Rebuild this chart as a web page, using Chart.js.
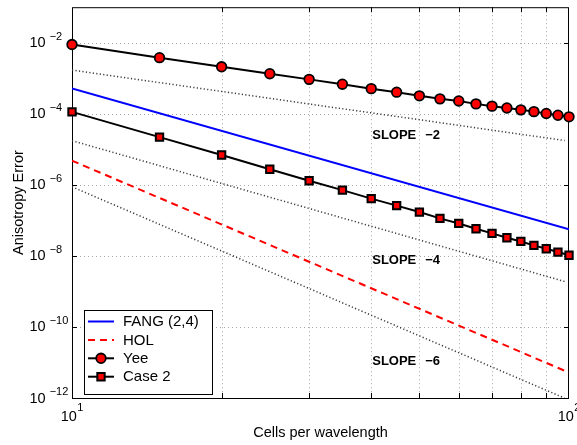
<!DOCTYPE html>
<html>
<head>
<meta charset="utf-8">
<script src="https://cdn.jsdelivr.net/npm/chart.js"></script>
<style>
  html, body { margin: 0; padding: 0; background: #fff; }
  #wrap { width: 577px; height: 445px; }
</style>
</head>
<body>
<div id="wrap"><canvas id="aniso"></canvas></div>
<script>
// cells per wavelength
const cells = [10, 15, 20, 25, 30, 35, 40, 45, 50, 55, 60, 65, 70, 75, 80, 85, 90, 95, 100];

// anisotropy error, Yee scheme and Case 2
const yeeErr = [8.9e-3, 3.8e-3, 2.1e-3, 1.34e-3, 9.3e-4, 6.8e-4, 5.1e-4, 4.06e-4, 3.2e-4, 2.63e-4,
                2.3e-4, 1.9e-4, 1.64e-4, 1.46e-4, 1.29e-4, 1.15e-4, 1.02e-4, 9.1e-5, 8.2e-5];
const case2Err = [1.13e-4, 2.2e-5, 6.9e-6, 2.75e-6, 1.3e-6, 7.1e-7, 4.1e-7, 2.6e-7, 1.71e-7, 1.14e-7,
                  8.2e-8, 5.8e-8, 4.3e-8, 3.25e-8, 2.55e-8, 1.98e-8, 1.59e-8, 1.28e-8, 1.04e-8];

// FANG (2,4) and HOL are straight on log-log axes
const lineCells = [10, 100];
const fangErr = [5.2e-4, 5.6e-8];
const holErr = [4.8e-6, 5.2e-12];

// slope guide lines
const guideCells = [10, 98];
const slope2 = [1.7e-3, 1.77e-5];
const slope4 = [1.75e-5, 1.9e-9];
const slope6 = [8.8e-7, 9.9e-13];
const slopeNames = ['\u22122', '\u22124', '\u22126'];
const slopeLabelAt = [2.5e-5, 7.6e-9, 1.1e-11];   // y of each "SLOPE" label, placed at x = 40

// axes
const xTickExp = [1, 2];
const xGrid = [20, 30, 40, 50, 60, 70, 80, 90];
const yTickExp = [-12, -10, -8, -6, -4, -2];

const FONT = '"Liberation Sans", Arial, Helvetica, sans-serif';

const pts = (xs, ys) => xs.map((x, i) => ({ x: x, y: ys[i] }));

function seg(ctx, x1, y1, x2, y2) {
    ctx.beginPath();
    ctx.moveTo(x1, y1);
    ctx.lineTo(x2, y2);
    ctx.stroke();
}

// "10" with a raised exponent; (x, y) is the left/middle of the "10"
function pow10(ctx, exp, x, y, gap, supRise) {
    const sup = exp < 0 ? '\u2212' + (-exp) : String(exp);
    ctx.textBaseline = 'middle';
    ctx.textAlign = 'left';
    ctx.font = '14.5px ' + FONT;
    ctx.fillText('10', x, y);
    const wb = ctx.measureText('10').width;
    ctx.font = '11px ' + FONT;
    ctx.fillText(sup, x + wb + gap, y - supRise);
}

function powWidth(ctx, exp, gap) {
    const sup = exp < 0 ? '\u2212' + (-exp) : String(exp);
    ctx.font = '14.5px ' + FONT;
    const wb = ctx.measureText('10').width;
    ctx.font = '11px ' + FONT;
    return wb + gap + ctx.measureText(sup).width;
}

const frame = {
    id: 'frame',
    beforeDatasetsDraw(chart) {
        const { ctx, chartArea: a, scales: { x, y } } = chart;
        ctx.save();
        // dotted grid
        ctx.strokeStyle = '#a8a8a8';
        ctx.lineWidth = 1;
        ctx.setLineDash([1, 3]);
        xGrid.forEach(v => {
            const px = Math.round(x.getPixelForValue(v)) + 0.5;
            seg(ctx, px, a.top, px, a.bottom);
        });
        yTickExp.forEach(e => {
            if (e === -12) return;
            const py = Math.round(y.getPixelForValue(Math.pow(10, e))) + 0.5;
            seg(ctx, a.left, py, a.right, py);
        });
        // inward ticks on all four sides
        ctx.setLineDash([]);
        ctx.strokeStyle = '#000';
        xGrid.forEach(v => {
            const px = Math.round(x.getPixelForValue(v)) + 0.5;
            seg(ctx, px, a.bottom, px, a.bottom - 5);
            seg(ctx, px, a.top, px, a.top + 5);
        });
        yTickExp.forEach(e => {
            const py = Math.round(y.getPixelForValue(Math.pow(10, e))) + 0.5;
            seg(ctx, a.left, py, a.left + 5, py);
            seg(ctx, a.right, py, a.right - 5, py);
        });
        // box
        ctx.strokeRect(a.left + 0.5, a.top + 0.5, a.right - a.left - 1, a.bottom - a.top);
        ctx.restore();
    },
    afterDraw(chart) {
        const { ctx, chartArea: a, scales: { x, y } } = chart;
        ctx.save();
        ctx.fillStyle = '#000';

        // tick labels
        yTickExp.forEach(e => {
            const py = y.getPixelForValue(Math.pow(10, e));
            pow10(ctx, e, 29.5, py + 0.5, 4, 6.5);
        });
        xTickExp.forEach(e => {
            const px = x.getPixelForValue(Math.pow(10, e));
            const w = powWidth(ctx, e, 0.5);
            pow10(ctx, e, px - w / 2, a.bottom + 18.5, 0.5, 8.5);
        });

        // axis titles
        ctx.font = '14.5px ' + FONT;
        ctx.textAlign = 'center';
        ctx.textBaseline = 'middle';
        ctx.fillText('Cells per wavelength', (a.left + a.right) / 2, 433);
        ctx.save();
        ctx.translate(19, (a.top + a.bottom) / 2);
        ctx.rotate(-Math.PI / 2);
        ctx.fillText('Anisotropy Error', 0, 0);
        ctx.restore();

        // slope annotations
        ctx.font = 'bold 13px ' + FONT;
        ctx.textAlign = 'left';
        slopeNames.forEach((s, i) => {
            const px = x.getPixelForValue(40) + 1;
            const py = y.getPixelForValue(slopeLabelAt[i]);
            ctx.fillText('SLOPE', px, py);
            ctx.fillText(s, px + 53, py);
        });

        // legend
        const lx = 84, ly = 310, lw = 128, lh = 84;
        ctx.fillStyle = '#fff';
        ctx.fillRect(lx, ly, lw, lh);
        ctx.strokeStyle = '#000';
        ctx.lineWidth = 1;
        ctx.strokeRect(lx + 0.5, ly + 0.5, lw, lh);
        chart.data.datasets.filter(d => d.label).forEach((d, i) => {
            const ry = 321.5 + i * 18.4;
            ctx.strokeStyle = d.borderColor;
            ctx.lineWidth = d.borderWidth;
            ctx.setLineDash(d.borderDash || []);
            seg(ctx, 88, ry, 114, ry);
            ctx.setLineDash([]);
            if (d.pointRadius > 0) {
                ctx.fillStyle = d.pointBackgroundColor;
                ctx.strokeStyle = d.pointBorderColor;
                ctx.lineWidth = d.pointBorderWidth;
                ctx.beginPath();
                if (d.pointStyle === 'circle') {
                    ctx.arc(101, ry, d.pointRadius, 0, Math.PI * 2);
                } else {
                    const s = d.pointRadius * Math.SQRT1_2;
                    ctx.rect(101 - s, ry - s, 2 * s, 2 * s);
                }
                ctx.fill();
                ctx.stroke();
            }
            ctx.fillStyle = '#000';
            ctx.font = '15px ' + FONT;
            ctx.textAlign = 'left';
            ctx.textBaseline = 'middle';
            ctx.fillText(d.label, 123, ry + 0.5);
        });
        ctx.restore();
    }
};

const legendOrder = ['FANG (2,4)', 'HOL', 'Yee', 'Case 2'];
const guideStyle = { showLine: true, borderColor: '#3a3a3a', borderWidth: 1.5, borderDash: [1.2, 2.3], pointRadius: 0 };

new Chart(document.getElementById('aniso'), {
    type: 'scatter',
    data: {
        datasets: [
            {
                label: legendOrder[0], data: pts(lineCells, fangErr), showLine: true,
                borderColor: '#0000ff', borderWidth: 2, pointRadius: 0
            },
            {
                label: legendOrder[1], data: pts(lineCells, holErr), showLine: true,
                borderColor: '#ff0000', borderWidth: 2, borderDash: [7, 5], pointRadius: 0
            },
            {
                label: legendOrder[2], data: pts(cells, yeeErr), showLine: true, clip: false,
                borderColor: '#000', borderWidth: 2,
                pointStyle: 'circle', pointRadius: 4.8, pointBorderWidth: 1.8,
                pointBackgroundColor: '#ff0000', pointBorderColor: '#000'
            },
            {
                label: legendOrder[3], data: pts(cells, case2Err), showLine: true, clip: false,
                borderColor: '#000', borderWidth: 2,
                pointStyle: 'rect', pointRadius: 5.2, pointBorderWidth: 2,
                pointBackgroundColor: '#ff0000', pointBorderColor: '#000'
            },
            Object.assign({ data: pts(guideCells, slope2) }, guideStyle),
            Object.assign({ data: pts(guideCells, slope4) }, guideStyle),
            Object.assign({ data: pts(guideCells, slope6) }, guideStyle)
        ]
    },
    options: {
        responsive: true,
        maintainAspectRatio: false,
        animation: false,
        layout: { padding: { left: 72, right: 8, top: 7, bottom: 47 } },
        plugins: { legend: { display: false }, tooltip: { enabled: false } },
        scales: {
            x: { type: 'logarithmic', min: 10, max: 100, display: false },
            y: { type: 'logarithmic', min: 1e-12, max: 1e-1, display: false }
        }
    },
    plugins: [frame]
});
</script>
</body>
</html>
